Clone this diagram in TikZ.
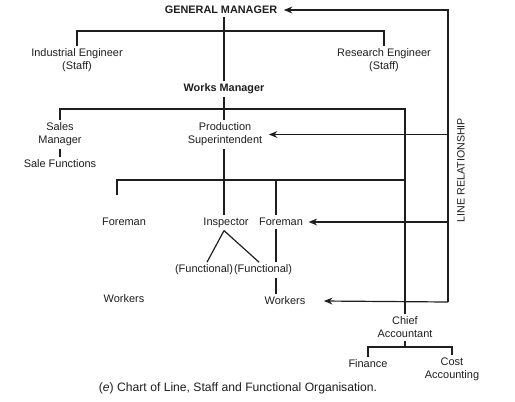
\documentclass[tikz,border=0pt]{standalone}
\usepackage{fontspec}
\setmainfont{Liberation Sans}
\usepackage{xcolor}
\usepackage{tikz}
\usetikzlibrary{arrows.meta,positioning}
\definecolor{ocInk}{HTML}{1E1E1E}
\tikzset{
  oc chart/.style={font=\fontsize{11}{13}\selectfont, text=ocInk,
    line cap=butt, line join=miter},
  oc node/.style={align=center, inner sep=2.5pt},
  oc head/.style={oc node, font=\fontsize{10.9}{13}\selectfont\bfseries},
  oc line/.style={draw=ocInk, line width=1.2pt},
  oc arrow/.style={oc line, -{Stealth[length=3mm,width=2.4mm]}},
  oc label/.style={font=\fontsize{10.7}{12}\selectfont, rotate=90},
  oc caption/.style={font=\fontsize{12.2}{14}\selectfont}
}
\begin{document}
\begin{tikzpicture}[oc chart,x=1bp,y=-1bp]
\useasboundingbox (0,0) rectangle (515,401);
% heads and staff
\node[oc head] (gm) at (221,10) {GENERAL MANAGER};
\node[oc node] (ie) at (77,60) {Industrial Engineer\\(Staff)};
\node[oc node] (re) at (384,60) {Research Engineer\\(Staff)};
\node[oc head] (wm) at (224,89) {Works Manager};
% second level
\node[oc node] (sm) at (60,134.5) {Sales\\Manager};
\node[oc node] (sf) at (60,164) {Sale Functions};
\node[oc node] (ps) at (225,134.5) {Production\\Superintendent};
% shop floor
\node[oc node] (fm1) at (124,222) {Foreman};
\node[oc node] (insp) at (226,223) {Inspector};
\node[oc node] (fm2) at (281,222) {Foreman};
\node[oc node] (fn1) at (204,270) {(Functional)};
\node[oc node] (fn2) at (263,270) {(Functional)};
\node[oc node] (wk1) at (124,299) {Workers};
\node[oc node] (wk2) at (285,301) {Workers};
% accounts
\node[oc node] (ca) at (405,327.5) {Chief\\Accountant};
\node[oc node] (fin) at (368,364) {Finance};
\node[oc node] (cost) at (452,369.5) {Cost\\Accounting};
\node[oc label] (lr) at (461,170) {LINE RELATIONSHIP};
\node[oc caption] (cap) at (238,388) {(\textit{e}) Chart of Line, Staff and Functional Organisation.};

% bars and free ends
\coordinate (staff bar) at (0,31);
\coordinate (wm bar) at (0,109);
\coordinate (fm bar) at (0,180);
\coordinate (main drop) at (224,0);
\coordinate (fm1 tick) at (117,195);
\coordinate (fm2 drop) at (276,180);
\coordinate (acc bar) at (0,347);
\coordinate (lr top) at (448,10);
\coordinate (lr bottom) at (448,302);

\draw[oc line] (main drop |- gm.south) -- (main drop |- wm.north);
\draw[oc line] (ie.north) -- (ie.north |- staff bar) -- (re.north |- staff bar) -- (re.north);
\draw[oc line] (main drop |- wm.south) -- (main drop |- ps.north);
\draw[oc line] (sm.north) -- (sm.north |- wm bar) -- (ca.north |- wm bar) -- (ca.north);
\draw[oc line] (sm.south) -- (sf.north);
\draw[oc line] (main drop |- ps.south) -- (main drop |- insp.north);
\draw[oc line] (fm1 tick) -- (fm1 tick |- fm bar) -- (ca.north |- fm bar);
\draw[oc line] (fm2 drop) -- (fm2 drop |- fm2.north);
\draw[oc line] (fm2 drop |- fm2.south) -- (fm2 drop |- fn2.north);
\draw[oc line] (fm2 drop |- fn2.south) -- (fm2 drop |- wk2.north);
\draw[oc line] (main drop |- insp.south) -- ([xshift=3pt]fn1.north);
\draw[oc line] (main drop |- insp.south) -- ([xshift=-4pt]fn2.north);
\draw[oc line] (ca.south) -- (ca.south |- acc bar);
\draw[oc line] (fin.north) -- (fin.north |- acc bar) -- (cost.north |- acc bar) -- (cost.north);

% line relationship
\draw[oc arrow] (lr bottom) -- (lr top) -- ([xshift=4pt]gm.east);
\draw[oc arrow] (lr top |- ps.east) -- ([xshift=4pt]ps.east);
\draw[oc arrow] (lr top |- fm2.east) -- ([xshift=3pt]fm2.east);
\draw[oc arrow] (lr bottom) -- ([xshift=16pt]wk2.east);
\end{tikzpicture}
\end{document}
